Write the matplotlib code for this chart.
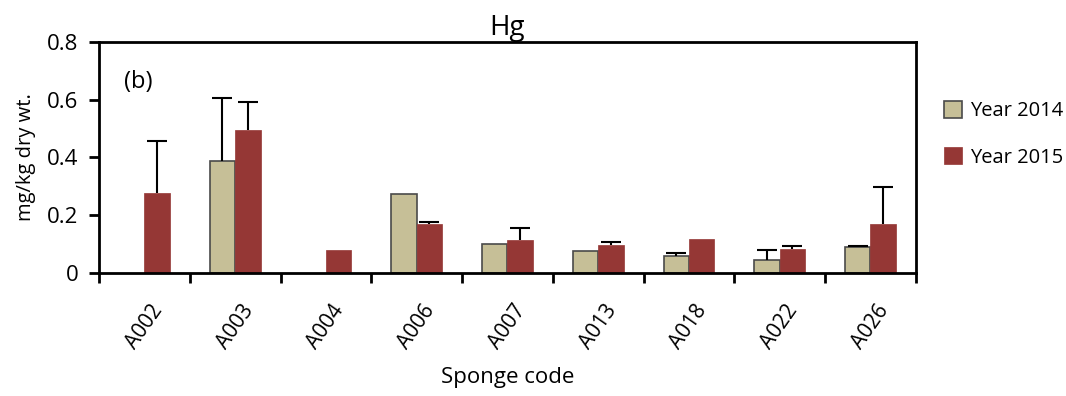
import numpy as np
import matplotlib.pyplot as plt

plt.rcParams['font.family'] = ['Open Sans', 'DejaVu Sans']

# Data
codes = ['A002', 'A003', 'A004', 'A006', 'A007', 'A013', 'A018', 'A022', 'A026']
hg_2014 = [np.nan, 0.388, np.nan, 0.272, 0.101, 0.077, 0.060, 0.045, 0.089]
err_2014 = [0, 0.218, 0, 0, 0, 0, 0.010, 0.035, 0.004]
hg_2015 = [0.277, 0.495, 0.080, 0.170, 0.113, 0.096, 0.119, 0.083, 0.171]
err_2015 = [0.180, 0.097, 0, 0.005, 0.042, 0.011, 0, 0.012, 0.126]

x = np.arange(len(codes))
w = 0.28

fig = plt.figure(figsize=(10.66, 3.96), dpi=100)
ax = fig.add_axes([0.0929, 0.3106, 0.7662, 0.5834])

ax.bar(x - w / 2, hg_2014, w, color='#c6bf97', edgecolor='#4a4a4a', linewidth=1.2,
       label='Year 2014', zorder=2)
ax.bar(x + w / 2, hg_2015, w, color='#953735', edgecolor='#953735', linewidth=0.5,
       label='Year 2015', zorder=2)

# only upper error bars, skip the ones with no error
for xs, vals, errs in [(x - w / 2, hg_2014, err_2014), (x + w / 2, hg_2015, err_2015)]:
    m = np.array(errs) > 0
    eb = ax.errorbar(xs[m], np.array(vals)[m], yerr=[np.zeros(m.sum()), np.array(errs)[m]],
                     fmt='none', ecolor='black', elinewidth=1.5, capsize=7, capthick=1.5,
                     zorder=3)
    # hide the cap sitting on top of the bar (lower error is zero)
    eb[1][0].set_visible(False)

ax.set_xlim(-0.5, len(codes) - 0.5)
ax.set_ylim(0, 0.8)
ax.set_yticks([0, 0.2, 0.4, 0.6, 0.8])
ax.set_yticklabels(['0', '0.2', '0.4', '0.6', '0.8'])

# ticks at category boundaries, labels centred
ax.set_xticks(np.arange(len(codes) + 1) - 0.5)
ax.set_xticklabels([])
ax.set_xticks(x, minor=True)
ax.set_xticklabels(codes, minor=True, rotation=55, ha='center', va='top', fontsize=15)
ax.tick_params(axis='x', which='minor', length=0, pad=20)
ax.tick_params(axis='x', which='major', length=7, width=2, direction='out')
ax.tick_params(axis='y', length=7, width=2, direction='out', labelsize=16, pad=8)

for s in ax.spines.values():
    s.set_linewidth(2)

ax.set_title('Hg', fontsize=20, pad=4)
ax.set_ylabel('mg/kg dry wt.', fontsize=14.5, labelpad=8)
ax.set_xlabel('Sponge code', fontsize=16, labelpad=10)
ax.text(0.03, 0.8, '(b)', transform=ax.transAxes, fontsize=17)

ax.legend(loc='center left', bbox_to_anchor=(1.012, 0.6), frameon=False,
          fontsize=14.5, handlelength=0.9, handleheight=0.9, labelspacing=1.3,
          handletextpad=0.4)

plt.savefig('out.png', dpi=100)
